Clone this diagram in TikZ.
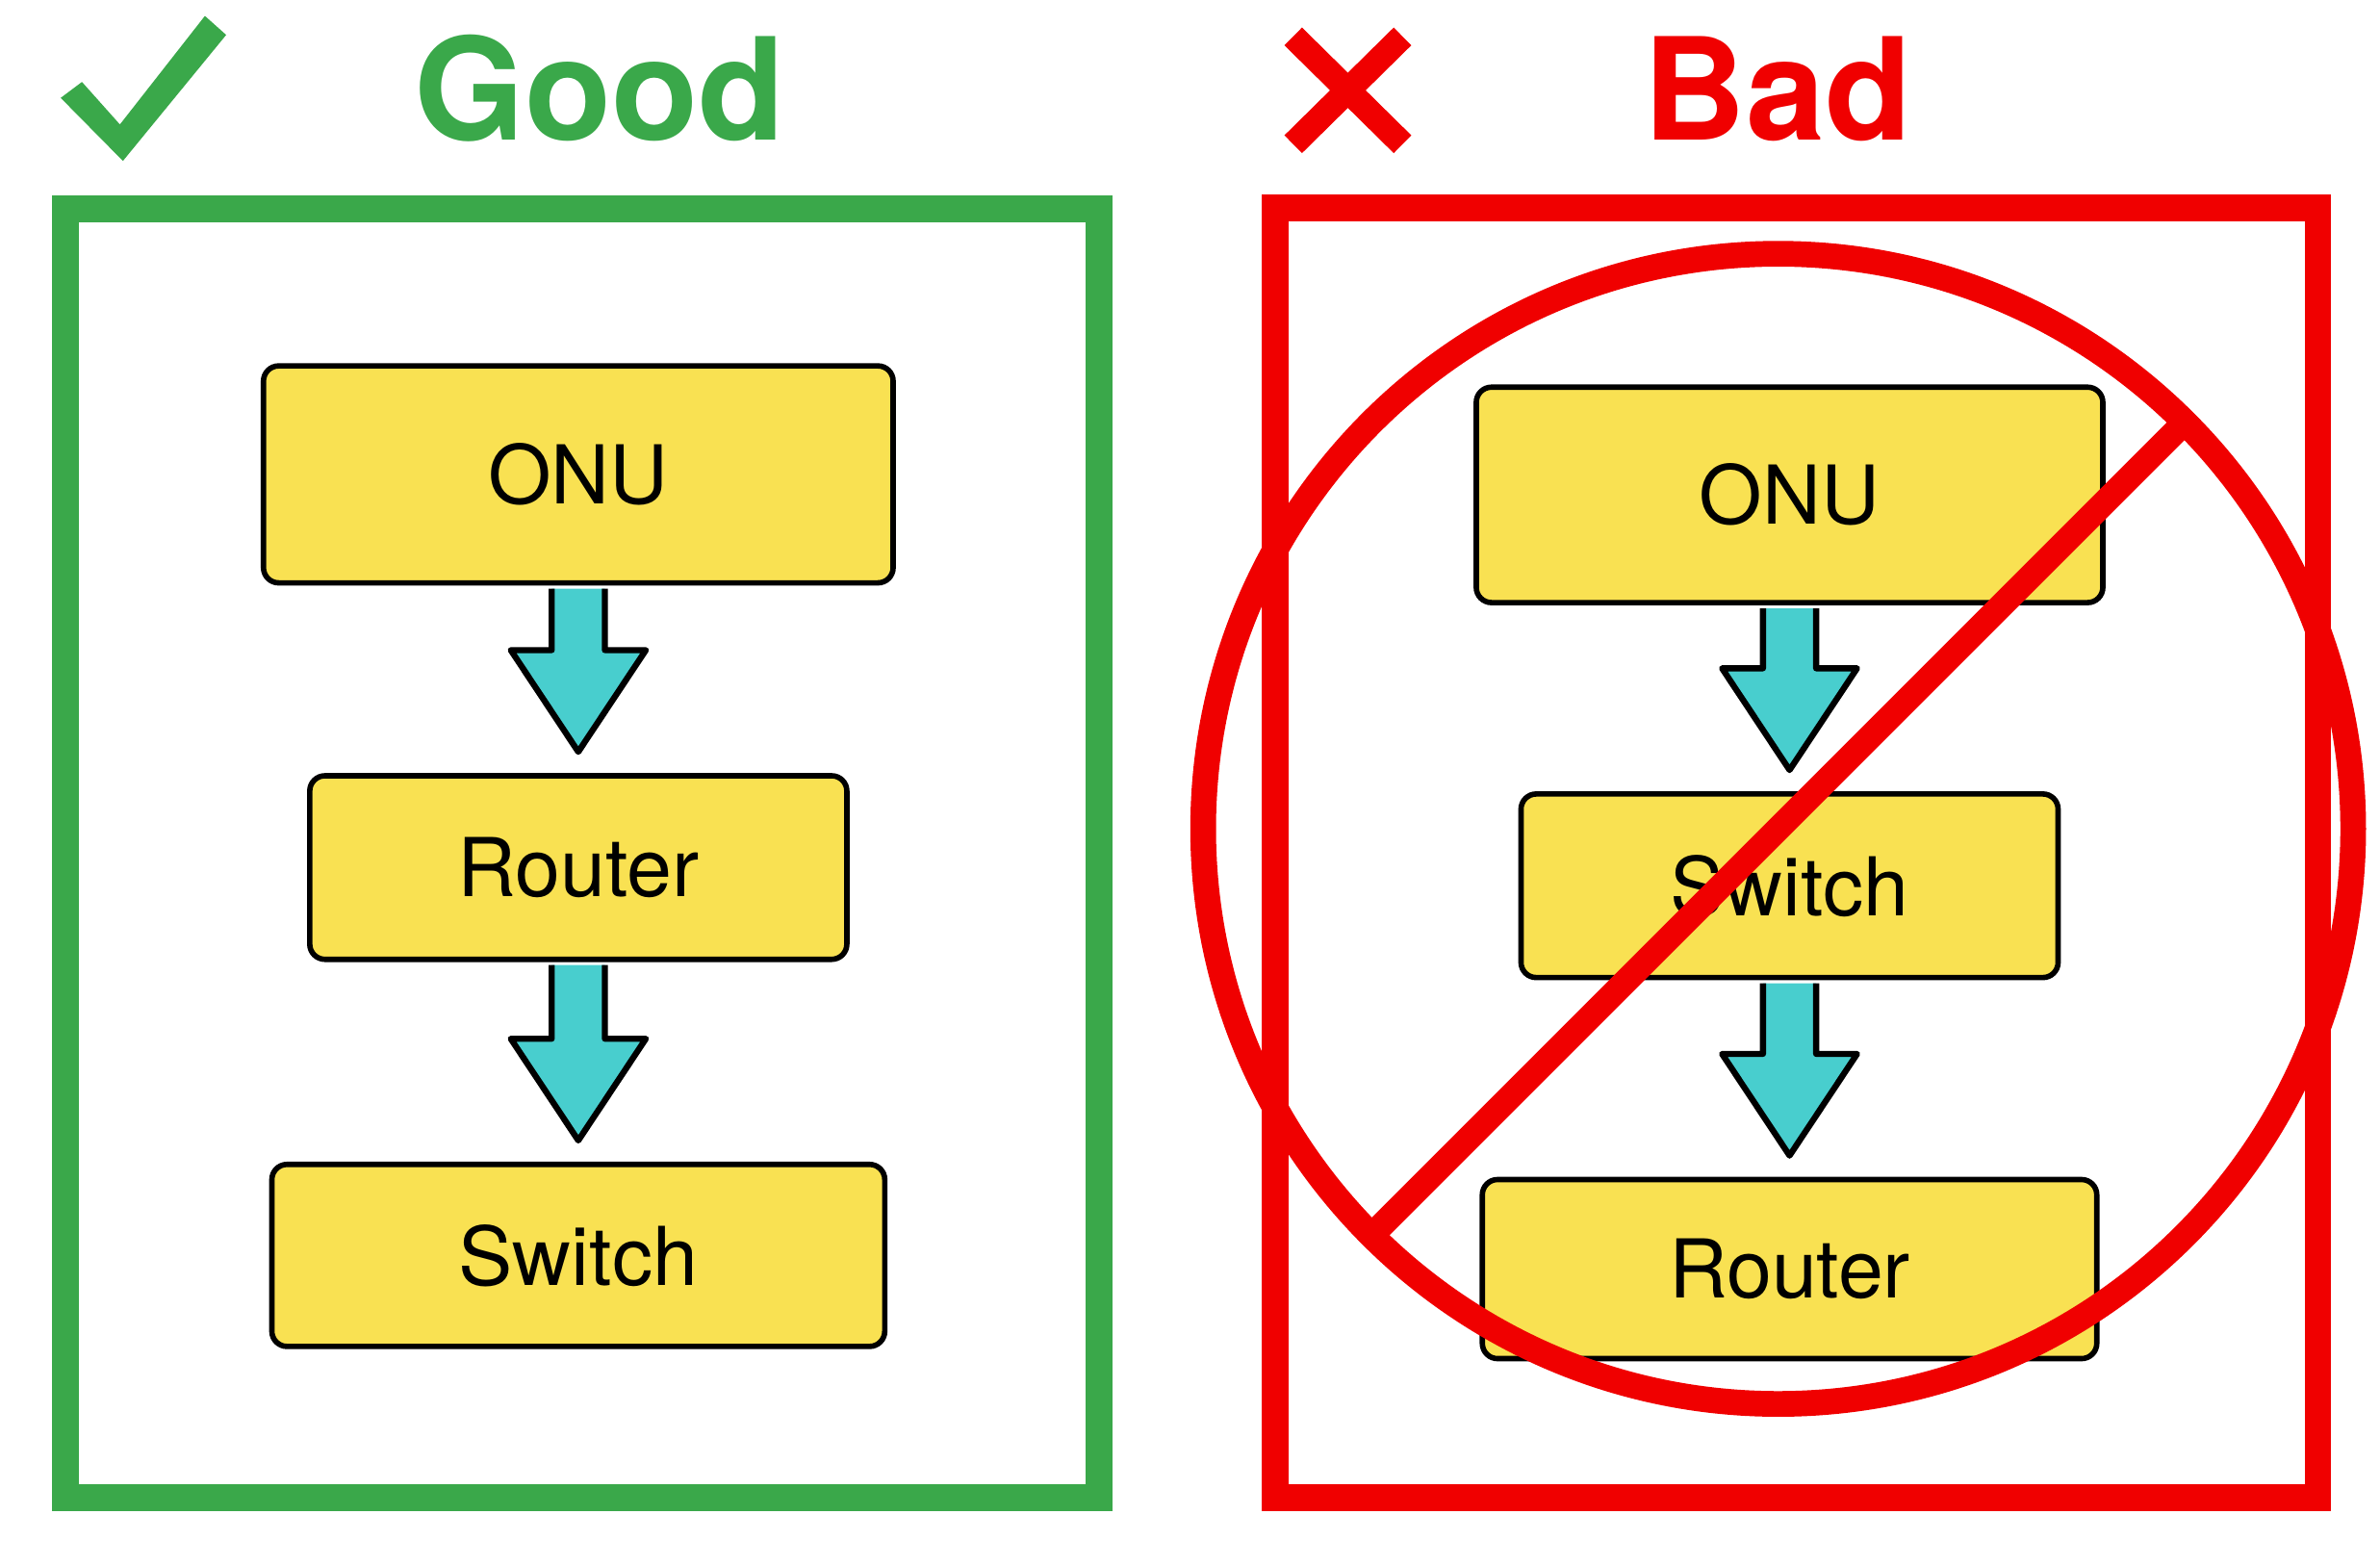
\documentclass[tikz,border=0pt]{standalone}
\usepackage{fontspec}
\setmainfont{TeX Gyre Heros}
\usetikzlibrary{calc}
\definecolor{goodgreen}{RGB}{58,168,74}
\definecolor{badred}{RGB}{240,0,0}
\definecolor{boxyellow}{RGB}{249,225,82}
\definecolor{arrowcyan}{RGB}{72,206,206}
\newcommand\flowarr[2]{%
  \coordinate (fa-s) at ($(#1.south)+(0,2)$);
  \coordinate (fa-t) at ($(#2.north)+(0,-14)$);
  \filldraw[flowarrow] ($(fa-s)+(-17.5,0)$) -- ($(fa-t)+(-17.5,-67)$) -- ($(fa-t)+(-44.5,-67)$) -- (fa-t) -- ($(fa-t)+(44.5,-67)$) -- ($(fa-t)+(17.5,-67)$) -- ($(fa-s)+(17.5,0)$);}
\begin{document}
\begin{tikzpicture}[x=0.01577cm,y=-0.01577cm,
  devbox/.style={draw=black, line width=1.6pt, fill=boxyellow, rounded corners=4.5pt, inner sep=0pt, font=\fontsize{24}{28}\selectfont},
  flowarrow/.style={fill=arrowcyan, draw=black, line width=1.8pt, line join=round},
  framegood/.style={draw=goodgreen, line width=7.8pt},
  framebad/.style={draw=badred, line width=7.8pt},
  redmark/.style={draw=badred, line width=7.4pt},
  title/.style={font=\fontsize{42}{50}\selectfont\bfseries, anchor=base, inner sep=0pt}]
\fill[white] (0,0) rectangle (1568,1031);
\useasboundingbox (0,0) rectangle (1568,1031);

% ---------- Good side ----------
\fill[goodgreen] (40,64.5) -- (54,54) -- (79,82) -- (135,10.5) -- (149,23) -- (81,106) -- cycle;
\node[title, text=goodgreen] (goodtitle) at (395,92) {Good};
\draw[framegood] (43,137.5) rectangle (724,986.5);

\node[devbox, minimum width=6.545cm, minimum height=2.255cm] (onug) at (381,312.5) {ONU};
\node[devbox, minimum width=5.583cm, minimum height=1.908cm] (routerg) at (381,571.5) {Router};
\node[devbox, minimum width=6.371cm, minimum height=1.892cm] (switchg) at (381,827) {Switch};
\flowarr{onug}{routerg}
\flowarr{routerg}{switchg}

% ---------- Bad side ----------
\draw[redmark] (852,24) -- (924,95);
\draw[redmark] (924,24) -- (852,95);
\node[title, text=badred] (badtitle) at (1171,92) {Bad};
\draw[framebad] (840,137) rectangle (1527,986.5);

\node[devbox, minimum width=6.513cm, minimum height=2.239cm] (onub) at (1179,326) {ONU};
\node[devbox, minimum width=5.583cm, minimum height=1.908cm] (switchb) at (1179,583.5) {Switch};
\node[devbox, minimum width=6.387cm, minimum height=1.861cm] (routerb) at (1179,836) {Router};
\flowarr{onub}{switchb}
\flowarr{switchb}{routerb}

\coordinate (cc) at (1171.5,546);
\draw[draw=badred, line width=7.6pt] (cc) circle [radius=5.977cm];
\draw[draw=badred, line width=7.4pt] ($(cc)+(-268,268)$) -- ($(cc)+(268,-268)$);
\end{tikzpicture}
\end{document}
